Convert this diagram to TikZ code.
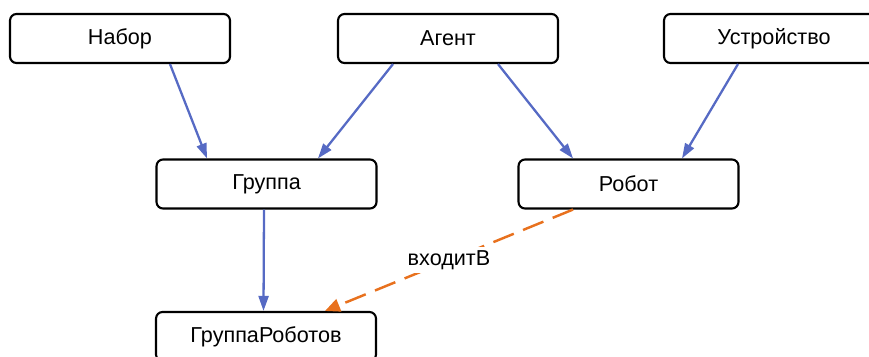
\documentclass[tikz,border=0pt]{standalone}
\usepackage{fontspec}
\setmainfont{Liberation Sans}
\usepackage{tikz}
\usetikzlibrary{calc}
\usetikzlibrary{arrows.meta}
\usetikzlibrary{positioning}
\definecolor{isablue}{RGB}{86, 106, 196}
\definecolor{linkorange}{RGB}{232, 113, 30}

\tikzset{
    classbox/.style={draw=black, line width=1.2pt, rounded corners=0.13cm, fill=white,
                     minimum width=4.4cm, minimum height=0.98cm, inner sep=0pt,
                     font=\fontsize{12.3}{14}\selectfont},
    isa/.style={draw=isablue, line width=1.3pt, -{Triangle[length=0.3cm, width=0.2cm]}},
    relation/.style={draw=linkorange, line width=1.4pt, dash pattern=on 0.44cm off 0.2cm,
                     -{Triangle[length=0.3cm, width=0.26cm]}}
}

\begin{document}
\begin{tikzpicture}[x=0.02cm, y=-0.02cm]
            \useasboundingbox (0, 0) rectangle (869, 356);
            \node[classbox] (nabor)         at (120.0,  38.5) {Набор};
            \node[classbox] (agent)         at (448.0,  38.5) {Агент};
            \node[classbox] (ustroistvo)    at (774.0,  38.5) {Устройство};
            \node[classbox] (gruppa)        at (266.5, 184.0) {Группа};
            \node[classbox] (robot)         at (628.5, 184.0) {Робот};
            \node[classbox] (gruppaRobotov) at (266.0, 336.5) {ГруппаРоботов};
            % subclass links
            \draw[isa] ([xshift= 1.00cm]nabor.south)      -- ([xshift=-1.19cm]gruppa.north);
            \draw[isa] ([xshift=-1.10cm]agent.south)      -- ([xshift= 1.03cm]gruppa.north);
            \draw[isa] ([xshift= 1.00cm]agent.south)      -- ([xshift=-1.11cm]robot.north);
            \draw[isa] ([xshift=-0.72cm]ustroistvo.south) -- ([xshift= 1.07cm]robot.north);
            \draw[isa] ([xshift=-0.05cm]gruppa.south)     -- ([xshift=-0.05cm]gruppaRobotov.north);
            % object property
            \draw[relation] ([xshift=-1.11cm]robot.south) -- ([xshift= 1.18cm]gruppaRobotov.north)
                 node[midway, fill=white, text=black, inner sep=2pt, font=\fontsize{12.3}{14}\selectfont] (vkhodit) {входитВ};
\end{tikzpicture}
\end{document}
